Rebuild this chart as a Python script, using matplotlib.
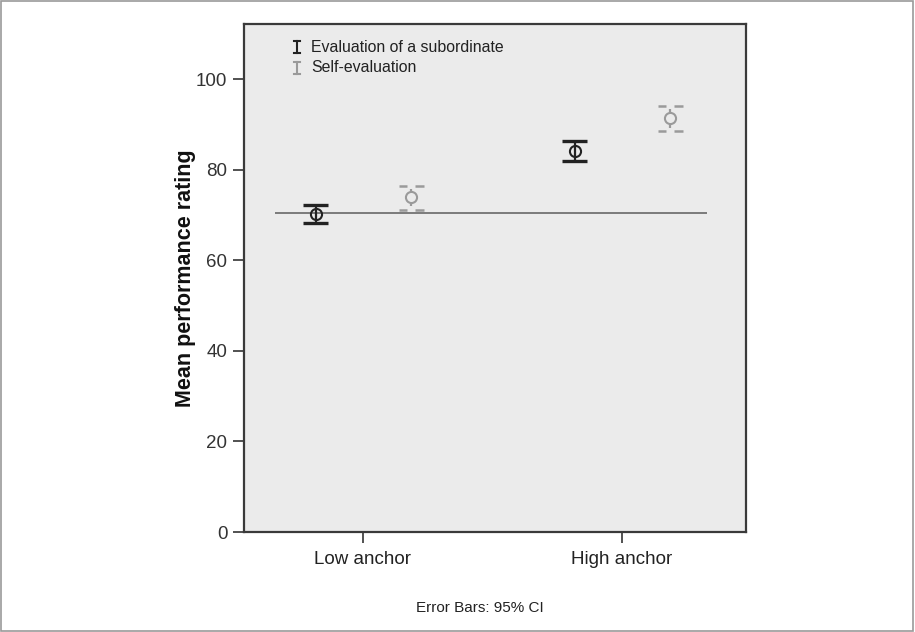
#!/usr/bin/env python3
# -*- coding: utf-8 -*-

import matplotlib
matplotlib.use('Agg')
import matplotlib.pyplot as plt
from matplotlib.patches import Rectangle

plt.rcParams['font.family'] = ['Liberation Sans', 'DejaVu Sans']

categories = ['Low anchor', 'High anchor']
series = ['Evaluation of a subordinate', 'Self-evaluation']
means = {'Evaluation of a subordinate': [70.2, 84.2],
         'Self-evaluation': [73.9, 91.3]}
ci_low = {'Evaluation of a subordinate': [68.2, 81.9],
          'Self-evaluation': [71.2, 88.6]}
ci_high = {'Evaluation of a subordinate': [72.1, 86.4],
           'Self-evaluation': [76.5, 94.1]}
ref_value = 70.4
y_ticks = [0, 20, 40, 60, 80, 100]

colors = {'Evaluation of a subordinate': '#222222', 'Self-evaluation': '#9a9a9a'}
offsets = {'Evaluation of a subordinate': -0.182, 'Self-evaluation': 0.186}

fig = plt.figure(figsize=(9.15, 6.32), dpi=100)
fig.patches.append(Rectangle((0.001, 0.002), 0.997, 0.996, transform=fig.transFigure,
                             fill=False, edgecolor='#9a9a9a', lw=1.2))
ax = fig.add_axes([0.2667, 0.1582, 0.5486, 0.8034])
ax.set_facecolor('#ebebeb')

# reference line
ax.hlines(ref_value, -0.34, 1.328, color='#7a7a7a', lw=1.4, zorder=2)

cap = 0.048
for s in series:
    c = colors[s]
    dashed = s == 'Self-evaluation'
    for i in range(len(categories)):
        x = i + offsets[s]
        m, lo, hi = means[s][i], ci_low[s][i], ci_high[s][i]
        if dashed:
            ax.vlines(x, m + 1.2, hi - 0.7, color=c, lw=1.6, zorder=3)
            ax.vlines(x, lo + 0.7, m - 1.2, color=c, lw=1.6, zorder=3)
            for yv in (lo, hi):
                ax.hlines(yv, x - cap, x - cap * 0.3, color=c, lw=1.8, zorder=3)
                ax.hlines(yv, x + cap * 0.3, x + cap, color=c, lw=1.8, zorder=3)
        else:
            ax.vlines(x, lo, hi, color=c, lw=1.6, zorder=3)
            ax.hlines([lo, hi], x - cap, x + cap, color=c, lw=2.4, zorder=3)
        ax.plot(x, m, 'o', ms=8, mfc='none', mec=c, mew=1.5, zorder=4)

ax.set_xlim(-0.459, 1.479)
ax.set_ylim(0, 112.1)
ax.set_xticks(range(len(categories)))
ax.set_xticklabels(categories, fontsize=13.5, color='#222222')
ax.set_yticks(y_ticks)
ax.set_yticklabels([str(v) for v in y_ticks], fontsize=13.5, color='#333333')
ax.tick_params(axis='y', length=8, width=1.2, color='#333333', pad=4)
ax.tick_params(axis='x', length=8, width=1.2, color='#333333', pad=6)
for sp in ax.spines.values():
    sp.set_color('#3a3a3a')
    sp.set_linewidth(1.6)
ax.set_ylabel('Mean performance rating', fontsize=15.5, fontweight='bold',
              color='#111111', labelpad=0)

# legend drawn by hand (SPSS style error-bar glyphs)
leg_y = [0.955, 0.914]
for s, yy in zip(series, leg_y):
    c = colors[s]
    gx = 0.1056
    h = 0.012
    w = 0.006
    ax.plot([gx, gx], [yy - h, yy + h], color=c, lw=1.5, transform=ax.transAxes)
    ax.plot([gx - w, gx + w], [yy + h, yy + h], color=c, lw=1.5, transform=ax.transAxes)
    ax.plot([gx - w, gx + w], [yy - h, yy - h], color=c, lw=1.5, transform=ax.transAxes)
    ax.text(0.1335, yy, s, transform=ax.transAxes, fontsize=11.4, color='#222222',
            va='center', ha='left')

fig.text(0.524, 1 - 608 / 632, 'Error Bars: 95% CI', fontsize=11, color='#222222',
         ha='center', va='center')

plt.savefig('out.png', dpi=100)
